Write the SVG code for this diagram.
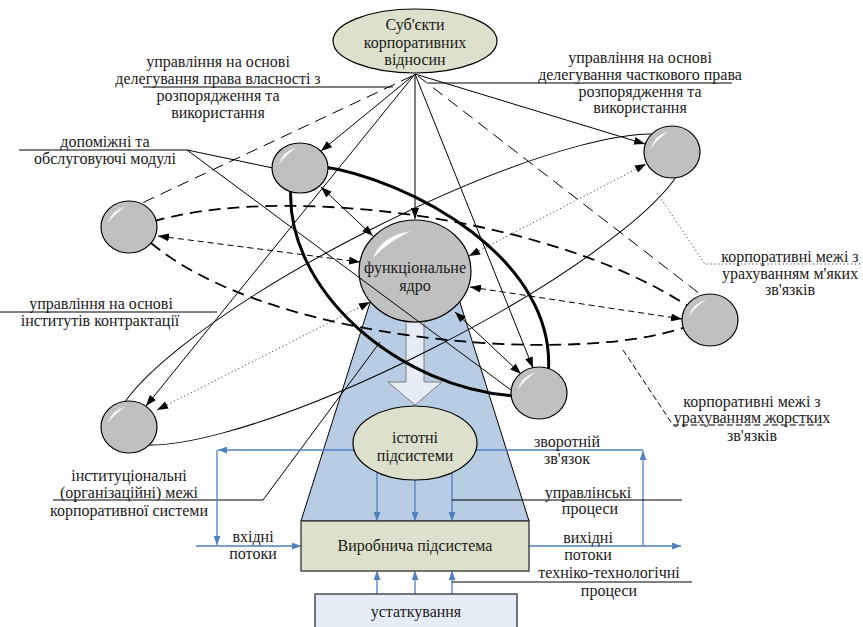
<svg xmlns="http://www.w3.org/2000/svg" width="863" height="627" viewBox="0 0 863 627" font-family="'Liberation Serif', 'DejaVu Serif', serif">
<style>
text{font-family:'Liberation Serif','DejaVu Serif',serif;fill:#1a1a1a;text-anchor:middle}
.lbl{font-size:16px}
.nd{font-size:16px}
.ln{fill:none;stroke:#000;stroke-width:1}
.thick{stroke-width:3}
.hdash{stroke-width:1.8;stroke-dasharray:12 7}
.ar{marker-end:url(#ah)}
.ar2{marker-start:url(#ah);marker-end:url(#ah)}
.dsh{stroke-dasharray:12 7}
.fdsh{stroke-dasharray:6 4}
.sdsh{stroke-dasharray:6 3}
.dot{stroke:#444;stroke-dasharray:1.2 2.6}
.blue{fill:none;stroke:#4f81bd;stroke-width:1.3}
.bar{marker-end:url(#bh)}
.mod{fill:#c0c0c0;stroke:#000;stroke-width:1.2}
.hl{fill:#fff;stroke:#d8d8d8;stroke-width:0.5}
</style>
<defs>
<marker id="ah" markerUnits="userSpaceOnUse" markerWidth="11" markerHeight="8" refX="11" refY="4" orient="auto-start-reverse"><path d="M0,0 L11,4 L0,8 Z" fill="#000"/></marker>
<marker id="bh" markerUnits="userSpaceOnUse" markerWidth="9" markerHeight="7" refX="9" refY="3.5" orient="auto"><path d="M0,0 L9,3.5 L0,7 Z" fill="#4f81bd"/></marker>
</defs>
<rect width="863" height="627" fill="#fff"/>

<g id="corporate-frame">
<polygon points="374,290 456,290 529,521 301,521" fill="#b8cce4" stroke="#000" stroke-width="1"/>
<polygon points="406,322 424,322 424,382 442,382 415,405 388,382 406,382" fill="#e6edf7" stroke="#7f7f7f" stroke-width="1"/>
</g>

<g id="core">
<ellipse cx="415" cy="271" rx="56" ry="51" class="mod"/>
<path d="M373,258 Q381,236 411,231 Q389,241 373,258 Z" class="hl"/>
<text class="nd" x="415" y="273">функціональне</text>
<text class="nd" x="415" y="291">ядро</text>
</g>

<g id="connectors">
<path class="ln ar" d="M415,74 L321,151"/>
<path class="ln ar" d="M415,74 L415,219"/>
<path class="ln ar" d="M415,74 L146,406"/>
<path class="ln ar" d="M415,74 L645,144"/>
<path class="ln ar" d="M415,74 L533,368"/>
<path class="ln dsh" d="M412,76 L140,204"/>
<path class="ln dsh" d="M418,76 L700,294"/>
<path class="ln ar2" d="M321,187 L373,236"/>
<path class="ln ar2 fdsh" d="M158,236 L360,262"/>
<path class="ln ar2 dot" d="M157,410 L370,302"/>
<path class="ln ar2 dot" d="M469,256 L646,164"/>
<path class="ln ar2 fdsh" d="M470,287 L682,319"/>
<path class="ln ar2" d="M455,312 L521,374"/>
<path class="ln" d="M19,150 H187 L273,168 M187,150 L511,390"/>
<path class="ln" d="M143,87 H393"/>
<path class="ln" d="M428,83 H732"/>
<path class="ln" d="M0,312 H217"/>
<path class="ln" d="M53,500 H263 L380,342"/>
<path class="ln dot" d="M657,193 L705,264 H860"/>
<path class="ln sdsh" d="M623,350 L673,425 H822"/>
<ellipse class="ln" cx="400.5" cy="289.5" rx="318" ry="67" transform="rotate(-26.86 400.5 289.5)"/>
<path class="ln thick" d="M318,166 C410,178 560,260 548,376 M291,185 C283,290 400,390 518,396"/>
<path class="ln hdash" d="M135,228 C250,180 560,210 705,318 C620,370 250,350 135,228 Z"/>
<path class="blue bar" d="M643,546 V451"/>
<path class="blue bar" d="M643,450 H218"/>
<path class="blue bar" d="M217,450 V545"/>
<path class="blue bar" d="M196,546 H301"/>
<path class="blue bar" d="M529,546 H681"/>
<path class="blue bar" d="M377,472 V521"/>
<path class="blue bar" d="M415,480 V521"/>
<path class="blue bar" d="M452,472 V521"/>
<path class="blue bar" d="M377,594 V571"/>
<path class="blue bar" d="M415,594 V571"/>
<path class="blue bar" d="M452,594 V571"/>
<path class="ln" d="M452,500 H682"/>
<path class="ln" d="M452,582 H692"/>
</g>

<g id="module-1"><ellipse cx="300" cy="168" rx="28" ry="25" class="mod"/><path class="hl" d="M279,164 Q283,151 296,148 Q286,154 279,164 Z"/></g>
<g id="module-2"><ellipse cx="129" cy="227" rx="28" ry="26" class="mod"/><path class="hl" d="M108,223 Q112,210 125,207 Q115,213 108,223 Z"/></g>
<g id="module-3"><ellipse cx="129" cy="427" rx="28" ry="26" class="mod"/><path class="hl" d="M108,423 Q112,410 125,407 Q115,413 108,423 Z"/></g>
<g id="module-4"><ellipse cx="672" cy="152" rx="28" ry="26" class="mod"/><path class="hl" d="M651,148 Q655,135 668,132 Q658,138 651,148 Z"/></g>
<g id="module-5"><ellipse cx="710" cy="320" rx="28" ry="26" class="mod"/><path class="hl" d="M689,316 Q693,303 706,300 Q696,306 689,316 Z"/></g>
<g id="module-6"><ellipse cx="539" cy="393" rx="28" ry="26" class="mod"/><path class="hl" d="M518,389 Q522,376 535,373 Q525,379 518,389 Z"/></g>

<g id="subjects">
<ellipse cx="415" cy="41" rx="82" ry="32" fill="#dde1cb" stroke="#000" stroke-width="1.2"/>
<text class="nd" x="415" y="30">Суб'єкти</text>
<text class="nd" x="415" y="48">корпоративних</text>
<text class="nd" x="415" y="65">відносин</text>
</g>

<g id="essential-subsystems">
<ellipse cx="415" cy="443" rx="62" ry="37" fill="#dde1cb" stroke="#000" stroke-width="1.2"/>
<text class="nd" x="415" y="443">істотні</text>
<text class="nd" x="415" y="461">підсистеми</text>
</g>

<g id="production-subsystem">
<rect x="301" y="521" width="228" height="50" fill="#dde1cb" stroke="#333" stroke-width="1.3"/>
<text class="nd" x="415" y="551">Виробнича підсистема</text>
</g>

<g id="equipment">
<rect x="315" y="594" width="202" height="45" fill="#e6edf7" stroke="#333" stroke-width="1.3"/>
<text class="nd" x="416" y="617">устаткування</text>
</g>

<g id="labels">
<text class="lbl" x="218" y="67">управління на основі</text>
<text class="lbl" x="218" y="84">делегування права власності з</text>
<text class="lbl" x="218" y="101">розпорядження та</text>
<text class="lbl" x="218" y="118">використання</text>
<text class="lbl" x="640" y="63">управління на основі</text>
<text class="lbl" x="640" y="80">делегування часткового права</text>
<text class="lbl" x="640" y="97">розпорядження та</text>
<text class="lbl" x="640" y="113">використання</text>
<text class="lbl" x="105" y="147">допоміжні та</text>
<text class="lbl" x="105" y="164">обслуговуючі модулі</text>
<text class="lbl" x="101" y="309">управління на основі</text>
<text class="lbl" x="100" y="326">інститутів контрактації</text>
<text class="lbl" x="790" y="262">корпоративні межі з</text>
<text class="lbl" x="790" y="279">урахуванням м'яких</text>
<text class="lbl" x="790" y="295">зв'язків</text>
<text class="lbl" x="752" y="407">корпоративні межі з</text>
<text class="lbl" x="752" y="423">урахуванням жорстких</text>
<text class="lbl" x="752" y="441">зв'язків</text>
<text class="lbl" x="129" y="481">інституціональні</text>
<text class="lbl" x="129" y="498">(організаційні) межі</text>
<text class="lbl" x="129" y="516">корпоративної системи</text>
<text class="lbl" x="567" y="447">зворотній</text>
<text class="lbl" x="567" y="464">зв'язок</text>
<text class="lbl" x="588" y="498">управлінські</text>
<text class="lbl" x="590" y="514">процеси</text>
<text class="lbl" x="253" y="542">вхідні</text>
<text class="lbl" x="253" y="559">потоки</text>
<text class="lbl" x="588" y="543">вихідні</text>
<text class="lbl" x="588" y="560">потоки</text>
<text class="lbl" x="609" y="578">техніко-технологічні</text>
<text class="lbl" x="609" y="596">процеси</text>
</g>
</svg>
